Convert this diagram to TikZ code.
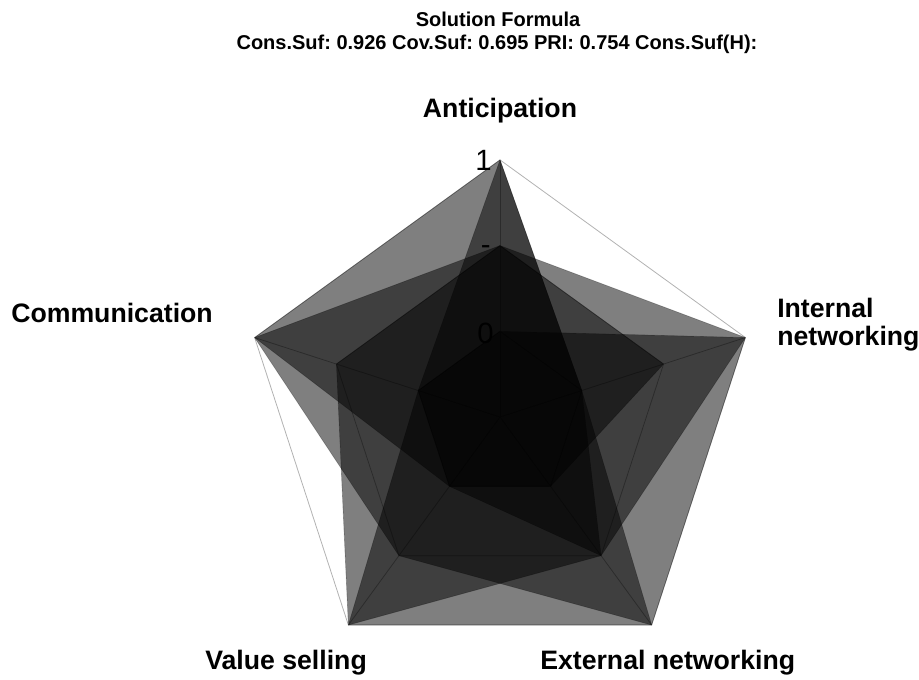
\documentclass[tikz,border=0pt]{standalone}
\usepackage{fontspec}
\setmainfont{Liberation Sans}
\frenchspacing
\begin{document}
\begin{tikzpicture}[x=0.75pt,y=-0.75pt]
\tikzstyle{web}=[draw=black!30,line width=0.6pt]
\tikzstyle{term}=[fill=black,fill opacity=0.5,draw=black,draw opacity=0.25,line width=0.5pt,line join=round]
\tikzstyle{condition}=[font=\bfseries\fontsize{20}{21}\selectfont,inner sep=0pt]
\tikzstyle{head}=[font=\bfseries\fontsize{15}{18}\selectfont,inner sep=0pt,anchor=base]
\tikzstyle{tick}=[font=\fontsize{22}{24}\selectfont,inner sep=0pt,anchor=base east]
\useasboundingbox (0,0) rectangle (919,679);
\node[head] (title) at (498,26) {Solution Formula};
\node[head] (stats) at (497,49) {Cons.Suf: 0.926 Cov.Suf: 0.695 PRI: 0.754 Cons.Suf(H):};
% spokes: level 0 = absent, 1 = don't care, 2 = present
\coordinate (mid) at (500,417);
\foreach \cond/\ang in {ant/90,int/18,ext/-54,val/-126,com/162}
  \foreach \lev in {0,1,2}
    \coordinate (\cond\lev) at ({500+86*(\lev+1)*cos(\ang)},{417-85.7*(\lev+1)*sin(\ang)});
\foreach \lev in {0,1,2}
  \draw[web] (ant\lev) -- (int\lev) -- (ext\lev) -- (val\lev) -- (com\lev) -- cycle;
\foreach \cond in {ant,int,ext,val,com}
  \draw[web] (mid) -- (\cond2);
% one polygon per term (ant/int/ext/val/com)
\foreach \a/\b/\c/\d/\e in {2/0/1/0/0,2/0/2/1/2,1/2/2/2/1,0/2/1/2/0,1/1/0/0/2}
  \draw[term] (ant\a) -- (int\b) -- (ext\c) -- (val\d) -- (com\e) -- cycle;
\node[tick] (one) at (492,170) {1};
\node[tick] (dash) at (491,254) {-};
\node[tick] (zero) at (494,343) {0};
\node[condition,anchor=base] (lab-ant) at (500,117) {Anticipation};
\node[condition,anchor=base west,align=left] (lab-int) at (777,345) {Internal\\networking};
\node[condition,anchor=base] (lab-com) at (112,322) {Communication};
\node[condition,anchor=base west] (lab-val) at (205,669) {Value selling};
\node[condition,anchor=base west] (lab-ext) at (540,669) {External networking};
\end{tikzpicture}
\end{document}
